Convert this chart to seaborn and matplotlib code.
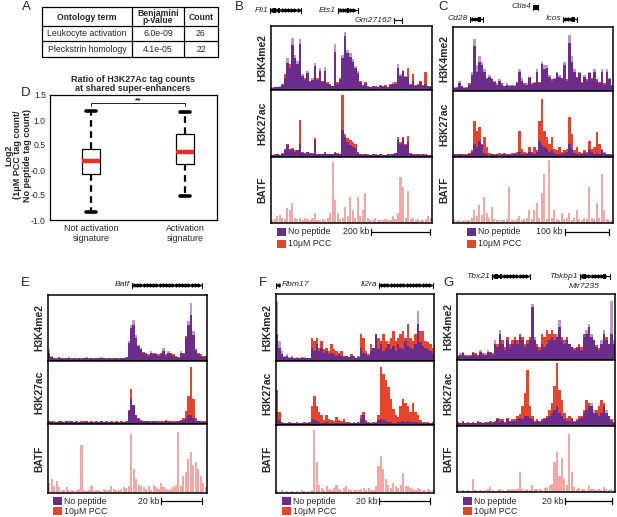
import numpy as np
import matplotlib
matplotlib.use("Agg")
import matplotlib.pyplot as plt
from matplotlib.patches import Rectangle
import seaborn as sns

W, H = 617, 517

# ---------------- panel A (table) ----------------
terms = ["Leukocyte activation", "Pleckstrin homology"]
pvalues = ["6.0e-09", "4.1e-05"]
counts = ["26", "22"]

# ---------------- panel D (box plot summary) ----------------
groups = ["Not activation\nsignature", "Activation\nsignature"]
whislo = [-0.84, -0.52]
q1 = [-0.08, 0.13]
med = [0.19, 0.37]
q3 = [0.43, 0.72]
whishi = [1.19, 1.17]
d_yticks = [-1.0, -0.5, 0.0, 0.5, 1.0, 1.5]
d_yticklabels = ["-1.0", "-0.5", "-0.0", "0.5", "1.0", "1.5"]

# ---------------- genome tracks (% of track height, 64 bins) ----------------
b_k4_np = [4, 5, 4, 6, 8, 18, 50, 35, 82, 55, 45, 80, 25, 15, 30, 12,
           18, 42, 15, 35, 12, 36, 10, 8, 6, 72, 10, 15, 55, 90, 62, 58,
           48, 38, 30, 12, 6, 10, 5, 4, 6, 5, 4, 7, 5, 6, 4, 8,
           12, 10, 40, 25, 32, 22, 20, 8, 14, 6, 8, 12, 6, 10, 7, 5]
b_k4_pcc = [3, 4, 5, 5, 10, 25, 42, 40, 70, 50, 40, 72, 22, 18, 26, 14,
            15, 38, 18, 30, 14, 30, 12, 10, 7, 60, 12, 18, 50, 85, 58, 52,
            44, 35, 26, 14, 8, 12, 6, 5, 7, 6, 5, 8, 6, 8, 5, 9,
            10, 12, 35, 22, 30, 20, 35, 10, 25, 8, 10, 14, 8, 28, 6, 6]
b_k27_np = [3, 3, 4, 3, 5, 10, 18, 10, 12, 8, 10, 20, 6, 5, 8, 6,
            5, 25, 5, 4, 4, 6, 4, 5, 4, 6, 5, 4, 40, 30, 22, 18,
            15, 14, 6, 4, 3, 4, 3, 3, 4, 3, 3, 4, 3, 3, 4, 3,
            4, 6, 25, 20, 28, 18, 22, 5, 4, 3, 4, 3, 4, 3, 3, 3]
b_k27_pcc = [3, 4, 4, 3, 6, 12, 20, 12, 14, 10, 10, 55, 8, 6, 8, 6,
             6, 28, 5, 5, 5, 7, 5, 5, 4, 8, 6, 5, 92, 35, 28, 25,
             22, 20, 8, 5, 4, 4, 4, 3, 4, 4, 3, 4, 3, 3, 4, 4,
             5, 6, 30, 22, 30, 20, 32, 6, 5, 4, 4, 4, 4, 4, 3, 3]
b_batf = [5, 6, 10, 12, 8, 6, 22, 20, 30, 8, 6, 8, 5, 8, 6, 5,
          8, 15, 5, 4, 6, 4, 8, 15, 92, 35, 15, 6, 8, 25, 10, 40,
          20, 8, 40, 10, 20, 45, 8, 5, 5, 8, 4, 5, 4, 6, 5, 4,
          10, 6, 15, 70, 55, 8, 48, 6, 8, 4, 6, 5, 4, 6, 10, 8]

c_k4_np = [6, 5, 15, 8, 6, 5, 10, 30, 82, 40, 55, 45, 35, 18, 25, 20,
           15, 12, 18, 10, 8, 12, 10, 8, 10, 12, 35, 20, 10, 12, 20, 10,
           14, 35, 12, 45, 40, 40, 25, 15, 20, 30, 25, 18, 45, 15, 88, 55,
           35, 20, 30, 12, 25, 15, 30, 18, 35, 15, 12, 35, 10, 35, 20, 8]
c_k4_pcc = [5, 6, 12, 8, 5, 6, 12, 25, 70, 30, 45, 40, 30, 20, 22, 18,
            14, 10, 15, 12, 8, 10, 8, 10, 8, 14, 30, 15, 12, 10, 22, 12,
            12, 30, 14, 42, 35, 36, 22, 18, 18, 28, 22, 20, 40, 18, 75, 45,
            30, 22, 28, 14, 22, 18, 28, 20, 30, 18, 14, 30, 12, 30, 18, 10]
c_k27_np = [4, 3, 5, 4, 3, 3, 5, 8, 20, 15, 25, 18, 6, 4, 3, 4,
            3, 4, 3, 4, 5, 3, 4, 3, 5, 4, 8, 4, 5, 4, 8, 6,
            5, 8, 25, 18, 15, 12, 8, 10, 6, 5, 5, 4, 6, 8, 20, 12,
            6, 5, 4, 5, 6, 4, 10, 8, 5, 6, 4, 12, 8, 5, 4, 3]
c_k27_pcc = [4, 4, 5, 5, 4, 4, 6, 10, 55, 40, 45, 20, 30, 15, 6, 4,
             5, 4, 6, 5, 6, 5, 5, 6, 6, 8, 40, 12, 8, 6, 15, 8,
             15, 10, 55, 88, 40, 30, 20, 30, 12, 10, 15, 8, 10, 12, 60, 35,
             10, 15, 8, 6, 10, 8, 25, 12, 15, 38, 20, 10, 6, 5, 4, 4]
c_batf = [6, 3, 4, 3, 4, 5, 4, 8, 20, 10, 28, 12, 40, 15, 8, 25,
          6, 5, 4, 4, 5, 6, 55, 4, 5, 6, 10, 5, 6, 8, 20, 6,
          20, 30, 8, 45, 75, 6, 95, 8, 20, 6, 5, 15, 6, 8, 15, 5,
          8, 20, 6, 5, 8, 6, 55, 8, 6, 30, 8, 75, 20, 6, 4, 3]

e_k4_np = [18, 8, 4, 3, 5, 4, 3, 4, 6, 3, 4, 3, 5, 3, 4, 6,
           3, 4, 3, 5, 4, 6, 4, 3, 4, 3, 5, 4, 3, 4, 4, 5,
           30, 55, 62, 40, 25, 20, 12, 10, 8, 15, 10, 12, 8, 10, 20, 8,
           15, 10, 8, 6, 5, 15, 10, 35, 60, 88, 45, 15, 10, 8, 6, 8]
e_k4_pcc = [12, 6, 5, 4, 6, 5, 4, 5, 5, 4, 5, 4, 4, 4, 5, 5,
            4, 5, 4, 4, 5, 5, 5, 4, 5, 4, 4, 5, 4, 5, 5, 6,
            28, 50, 55, 35, 22, 18, 14, 12, 10, 12, 12, 10, 10, 12, 15, 10,
            12, 12, 10, 8, 6, 12, 12, 38, 55, 70, 40, 18, 12, 10, 8, 8]
e_k27_np = [5, 3, 3, 3, 4, 3, 3, 4, 3, 4, 3, 3, 3, 3, 3, 4,
            3, 3, 3, 3, 3, 4, 3, 3, 3, 3, 3, 3, 3, 3, 3, 3,
            20, 40, 30, 15, 8, 5, 4, 4, 4, 3, 4, 3, 3, 3, 3, 4,
            4, 3, 3, 3, 4, 5, 6, 8, 15, 15, 10, 5, 4, 3, 3, 3]
e_k27_pcc = [4, 4, 4, 3, 5, 4, 3, 5, 4, 4, 3, 4, 3, 4, 4, 5,
             3, 4, 3, 4, 3, 5, 3, 4, 3, 4, 3, 4, 3, 4, 3, 4,
             22, 55, 30, 15, 10, 6, 5, 5, 4, 4, 5, 4, 4, 4, 5, 6,
             5, 4, 5, 4, 5, 6, 10, 20, 45, 90, 40, 10, 5, 4, 4, 4]
e_batf = [15, 20, 10, 18, 8, 5, 4, 8, 4, 5, 3, 4, 6, 70, 5, 3,
          4, 10, 3, 5, 4, 3, 6, 4, 5, 10, 6, 4, 5, 6, 8, 7,
          10, 85, 35, 20, 12, 10, 8, 6, 10, 5, 12, 8, 6, 15, 8, 6,
          5, 6, 8, 12, 88, 10, 25, 30, 50, 60, 40, 45, 35, 25, 15, 8]

f_k4_np = [90, 30, 15, 8, 10, 6, 8, 5, 6, 4, 5, 6, 4, 5, 20, 15,
           25, 15, 20, 12, 15, 10, 12, 10, 8, 10, 8, 6, 7, 6, 8, 6,
           5, 8, 20, 12, 10, 8, 15, 20, 40, 18, 25, 15, 20, 30, 18, 22,
           15, 25, 20, 18, 30, 22, 20, 18, 25, 75, 28, 22, 20, 18, 15, 12]
f_k4_pcc = [40, 20, 10, 6, 8, 5, 6, 4, 5, 5, 6, 4, 4, 4, 35, 30,
            35, 20, 30, 18, 20, 15, 25, 18, 15, 12, 15, 8, 8, 6, 10, 8,
            5, 6, 40, 35, 15, 10, 25, 20, 40, 35, 30, 40, 30, 25, 35, 45,
            30, 35, 40, 45, 35, 55, 35, 30, 40, 55, 45, 45, 30, 28, 25, 20]
f_k27_np = [20, 8, 3, 3, 3, 3, 3, 3, 3, 3, 3, 3, 3, 3, 10, 8,
            6, 4, 3, 3, 4, 3, 3, 3, 3, 3, 3, 3, 3, 3, 3, 3,
            3, 3, 10, 15, 5, 3, 3, 3, 3, 8, 10, 8, 6, 5, 4, 3,
            3, 4, 5, 6, 5, 6, 5, 4, 5, 4, 3, 3, 3, 3, 3, 3]
f_k27_pcc = [55, 20, 4, 3, 3, 4, 3, 3, 4, 3, 3, 4, 3, 4, 30, 45,
             30, 20, 15, 8, 15, 10, 8, 6, 12, 8, 6, 10, 5, 4, 3, 4,
             3, 4, 15, 20, 8, 4, 3, 4, 5, 15, 90, 80, 70, 60, 40, 25,
             15, 12, 30, 40, 35, 30, 20, 35, 20, 15, 8, 5, 4, 4, 3, 4]
f_batf = [3, 2, 4, 2, 3, 2, 3, 2, 3, 2, 4, 3, 2, 3, 4, 92,
          45, 12, 8, 5, 10, 6, 5, 8, 12, 6, 5, 8, 10, 6, 4, 5,
          4, 5, 6, 8, 5, 8, 4, 5, 10, 40, 55, 35, 20, 12, 8, 15,
          10, 8, 12, 30, 10, 10, 8, 6, 5, 8, 6, 5, 4, 6, 5, 4]

g_k4_np = [8, 10, 12, 6, 8, 6, 10, 8, 6, 15, 8, 10, 15, 10, 8, 30,
           20, 45, 25, 15, 30, 20, 25, 30, 25, 35, 30, 20, 25, 30, 85, 35,
           20, 15, 25, 20, 25, 30, 35, 30, 40, 60, 30, 25, 30, 25, 20, 15,
           18, 20, 15, 35, 45, 55, 40, 30, 20, 15, 30, 45, 30, 25, 90, 30]
g_k4_pcc = [6, 8, 10, 8, 6, 8, 12, 10, 8, 12, 10, 8, 12, 12, 10, 25,
            25, 40, 30, 20, 35, 25, 30, 35, 30, 40, 35, 25, 30, 35, 80, 30,
            25, 20, 40, 35, 45, 40, 45, 40, 35, 50, 35, 30, 35, 25, 20, 18,
            20, 25, 20, 40, 40, 50, 35, 30, 22, 18, 25, 40, 35, 25, 40, 25]
g_k27_np = [5, 4, 6, 4, 5, 4, 5, 4, 6, 5, 4, 5, 5, 6, 5, 6,
            10, 6, 8, 5, 10, 6, 8, 8, 10, 12, 10, 15, 15, 12, 10, 6,
            8, 6, 8, 10, 12, 15, 20, 25, 30, 20, 15, 10, 8, 8, 10, 6,
            8, 10, 12, 20, 25, 30, 35, 25, 20, 15, 20, 30, 25, 15, 8, 5]
g_k27_pcc = [6, 5, 7, 5, 6, 5, 6, 5, 7, 6, 5, 6, 6, 7, 6, 8,
             12, 10, 10, 6, 12, 8, 10, 10, 15, 18, 30, 50, 85, 30, 15, 8,
             10, 8, 10, 12, 15, 25, 35, 60, 95, 55, 40, 20, 12, 15, 12, 8,
             10, 15, 15, 25, 40, 35, 30, 20, 25, 30, 40, 35, 20, 15, 10, 6]
g_batf = [3, 2, 3, 2, 3, 2, 20, 3, 2, 3, 2, 3, 4, 8, 3, 2,
          3, 4, 3, 2, 5, 3, 4, 3, 4, 30, 4, 3, 5, 3, 10, 4,
          4, 5, 3, 6, 8, 10, 12, 45, 60, 25, 52, 20, 10, 88, 30, 8,
          5, 6, 4, 5, 3, 10, 4, 5, 3, 4, 3, 8, 4, 3, 4, 3]

track_names = ["H3K4me2", "H3K27ac", "BATF"]

PURPLE = "#6b2c8c"
PURPLE_LIGHT = "#b79ad0"
RED = "#e8432b"
PINK = "#f4a7a5"
MED_RED = "#e8302a"

sns.set_style("white")
plt.rcParams["font.family"] = ["Liberation Sans", "DejaVu Sans"]
plt.rcParams["font.size"] = 6.3

fig = plt.figure(figsize=(W / 100, H / 100), dpi=100)


def px_box(x0, y0, x1, y1):
    # pixel rectangle (top-left origin) -> figure fraction
    return [x0 / W, 1 - y1 / H, (x1 - x0) / W, (y1 - y0) / H]


def draw_tracks(x0, x1, ys, k4_np, k4_pcc, k27_np, k27_pcc, batf):
    idx = np.arange(len(batf))
    pairs = [(k4_np, k4_pcc), (k27_np, k27_pcc)]
    for i, name in enumerate(track_names):
        ax = fig.add_axes(px_box(x0, ys[i], x1, ys[i + 1]))
        kw = dict(linewidth=0, saturation=1, errorbar=None, ax=ax)
        if i < 2:
            a_np, a_pcc = pairs[i]
            # no-peptide alone (light), PCC on top, overlap in dark purple
            sns.barplot(x=idx, y=a_np, color=PURPLE_LIGHT, width=1, **kw)
            sns.barplot(x=idx, y=a_pcc, color=RED, width=1, **kw)
            sns.barplot(x=idx, y=np.minimum(a_np, a_pcc), color=PURPLE, width=1, **kw)
        else:
            sns.barplot(x=idx, y=batf, color=PINK, width=0.85, **kw)
        ax.set_xlim(-0.5, len(idx) - 0.5)
        ax.set_ylim(0, 100)
        ax.set_xticks([])
        ax.set_yticks([])
        ax.set_xlabel("")
        ax.set_ylabel("")
        for s in ax.spines.values():
            s.set_visible(True)
            s.set_color("black")
            s.set_linewidth(1.1)
        ax.text(-8.5 / (x1 - x0), 0.5, name, transform=ax.transAxes, rotation=90,
                ha="center", va="center", fontweight="bold", fontsize=7.4)


# ---------------- panel D ----------------
axd = fig.add_axes(px_box(50, 95, 217, 220))
stats = [dict(med=med[i], q1=q1[i], q3=q3[i], whislo=whislo[i], whishi=whishi[i], fliers=[])
         for i in range(2)]
axd.bxp(stats, positions=[0, 1], widths=0.2, capwidths=0.1, showfliers=False, patch_artist=True,
        boxprops=dict(facecolor="white", edgecolor="black", linewidth=0.9),
        whiskerprops=dict(color="black", linestyle=(0, (3, 2)), linewidth=1.6),
        capprops=dict(color="black", linewidth=2.6),
        medianprops=dict(color=MED_RED, linewidth=3.2))
axd.set_xlim(-0.436, 1.34)
axd.set_ylim(-1.0, 1.5)
axd.set_yticks(d_yticks)
axd.set_yticklabels(d_yticklabels, fontsize=6.2)
axd.set_xticks([0, 1])
axd.set_xticklabels(groups, fontsize=6.4, linespacing=1.15)
axd.tick_params(direction="in", length=2, width=0.6, pad=3)
for s in axd.spines.values():
    s.set_visible(True)
    s.set_color("black")
    s.set_linewidth(0.9)
# significance bracket
axd.plot([0, 0, 1, 1], [1.29, 1.34, 1.34, 1.29], color="black", lw=0.6)
axd.text(0.5, 1.325, "**", ha="center", va="bottom", fontsize=6, fontweight="bold")

# ---------------- genome panels ----------------
draw_tracks(271, 432, [26, 90, 157, 223], b_k4_np, b_k4_pcc, b_k27_np, b_k27_pcc, b_batf)
draw_tracks(453, 613, [27, 91, 157, 223], c_k4_np, c_k4_pcc, c_k27_np, c_k27_pcc, c_batf)
draw_tracks(48, 207, [295, 361, 424, 493], e_k4_np, e_k4_pcc, e_k27_np, e_k27_pcc, e_batf)
draw_tracks(276, 434, [294, 361, 425, 493], f_k4_np, f_k4_pcc, f_k27_np, f_k27_pcc, f_batf)
draw_tracks(457, 615, [294, 360, 426, 492], g_k4_np, g_k4_pcc, g_k27_np, g_k27_pcc, g_batf)

# ---------------- overlay for annotations (pixel coordinates) ----------------
ov = fig.add_axes([0, 0, 1, 1])
ov.set_xlim(0, W)
ov.set_ylim(H, 0)
ov.axis("off")
ov.patch.set_alpha(0)

# panel letters
for letter, (lx, ly) in {"A": (22, 7), "B": (235, 7), "C": (438, 7), "D": (21, 93),
                         "E": (21, 283), "F": (259, 283), "G": (443, 283)}.items():
    ov.text(lx, ly, letter, fontsize=9.5, ha="left", va="center")

# table A
tx = [42, 132, 184, 218]
ty = [7, 26, 41, 57]
for y in ty:
    ov.plot([tx[0], tx[-1]], [y, y], color="black", lw=0.9)
for x in tx:
    ov.plot([x, x], [ty[0], ty[-1]], color="black", lw=0.9)
hdr = ["Ontology term", "Benjamini\np-value", "Count"]
for j, h in enumerate(hdr):
    ov.text((tx[j] + tx[j + 1]) / 2, (ty[0] + ty[1]) / 2 + 0.5, h, ha="center", va="center",
            fontweight="bold", fontsize=6.2, linespacing=0.8)
for i in range(2):
    row = [terms[i], pvalues[i], counts[i]]
    for j, val in enumerate(row):
        ov.text((tx[j] + tx[j + 1]) / 2, (ty[i + 1] + ty[i + 2]) / 2, val, ha="center",
                va="center", fontsize=6.3)

# panel D title and y label
ov.text(133, 84, "Ratio of H3K27Ac tag counts\nat shared super-enhancers", ha="center",
        va="center", fontweight="bold", fontsize=6.5, linespacing=1.05)
ov.text(18, 155, "Log2\n(1\u03bcM PCC tag count/\nNo peptide tag count)", ha="center", va="center",
        rotation=90, fontweight="bold", fontsize=6.5, linespacing=1.05)


def gene(x0, x1, y, name=None, strand=1, exons=()):
    ov.plot([x0, x1], [y, y], color="black", lw=0.8)
    ov.plot([x0, x0], [y - 2.5, y + 2.5], color="black", lw=0.8)
    ov.plot([x1, x1], [y - 2.5, y + 2.5], color="black", lw=0.8)
    if x1 - x0 > 8:
        xs = np.arange(x0 + 3, x1 - 2, 3.2)
        ov.plot(xs, np.full(len(xs), y), ls="none", marker=">" if strand > 0 else "<",
                ms=2.2, color="black")
    for ex, ew in exons:
        ov.add_patch(Rectangle((ex, y - 2.5), ew, 5, color="black", lw=0))
    if name:
        ov.text(x0 - 2, y, name, ha="right", va="center", style="italic", fontsize=6.1)


# genes B
gene(270, 301, 10, "Fli1", exons=[(273, 3), (278, 2)])
gene(338, 358, 10, "Ets1", exons=[(347, 2)])
gene(394, 402, 20, "Gm27162")
# genes C
gene(533, 538, 7, "Ctla4", exons=[(534, 4)])
gene(470, 483, 19, "Cd28", exons=[(478, 3)])
gene(563, 577, 19, "Icos", exons=[(572, 3)])
# genes E
gene(132, 202, 285, "Batf")
# genes F
ov.plot([276, 276], [282.5, 287.5], color="black", lw=0.8)
ov.plot([278], [285], marker="<", ms=2.2, color="black")
ov.text(282, 285, "Rbm17", ha="left", va="center", style="italic", fontsize=6.1)
gene(379, 433, 285, "Il2ra")
# genes G
gene(492, 530, 276, "Tbx21", exons=[(495, 3), (500, 2)])
gene(580, 610, 276, "Tbkbp1", exons=[(583, 3), (603, 3)])
ov.text(584, 287, "Mir7235", ha="center", va="center", style="italic", fontsize=6.1)


def legend_and_scale(x, y1, y2, label, bx0, bx1):
    ov.add_patch(Rectangle((x, y1 - 4), 8.5, 8, color=PURPLE, lw=0))
    ov.add_patch(Rectangle((x, y2 - 4), 8.5, 8, color=RED, lw=0))
    ov.text(x + 11, y1, "No peptide", ha="left", va="center", fontsize=6.3)
    ov.text(x + 11, y2, "10\u03bcM PCC", ha="left", va="center", fontsize=6.3)
    ov.plot([bx0, bx1], [y1, y1], color="black", lw=0.9)
    ov.plot([bx0, bx0], [y1 - 3, y1 + 3], color="black", lw=0.9)
    ov.plot([bx1, bx1], [y1 - 3, y1 + 3], color="black", lw=0.9)
    ov.text(bx0 - 2, y1, label, ha="right", va="center", fontsize=6.3)


legend_and_scale(277, 232, 244, "200 kb", 371, 430)
legend_and_scale(467, 232, 244, "100 kb", 565, 609)
legend_and_scale(53, 501, 511, "20 kb", 161, 202)
legend_and_scale(282, 501, 511, "20 kb", 379, 430)
legend_and_scale(463, 501, 511, "20 kb", 565, 612)

fig.savefig("out.png", dpi=100)
